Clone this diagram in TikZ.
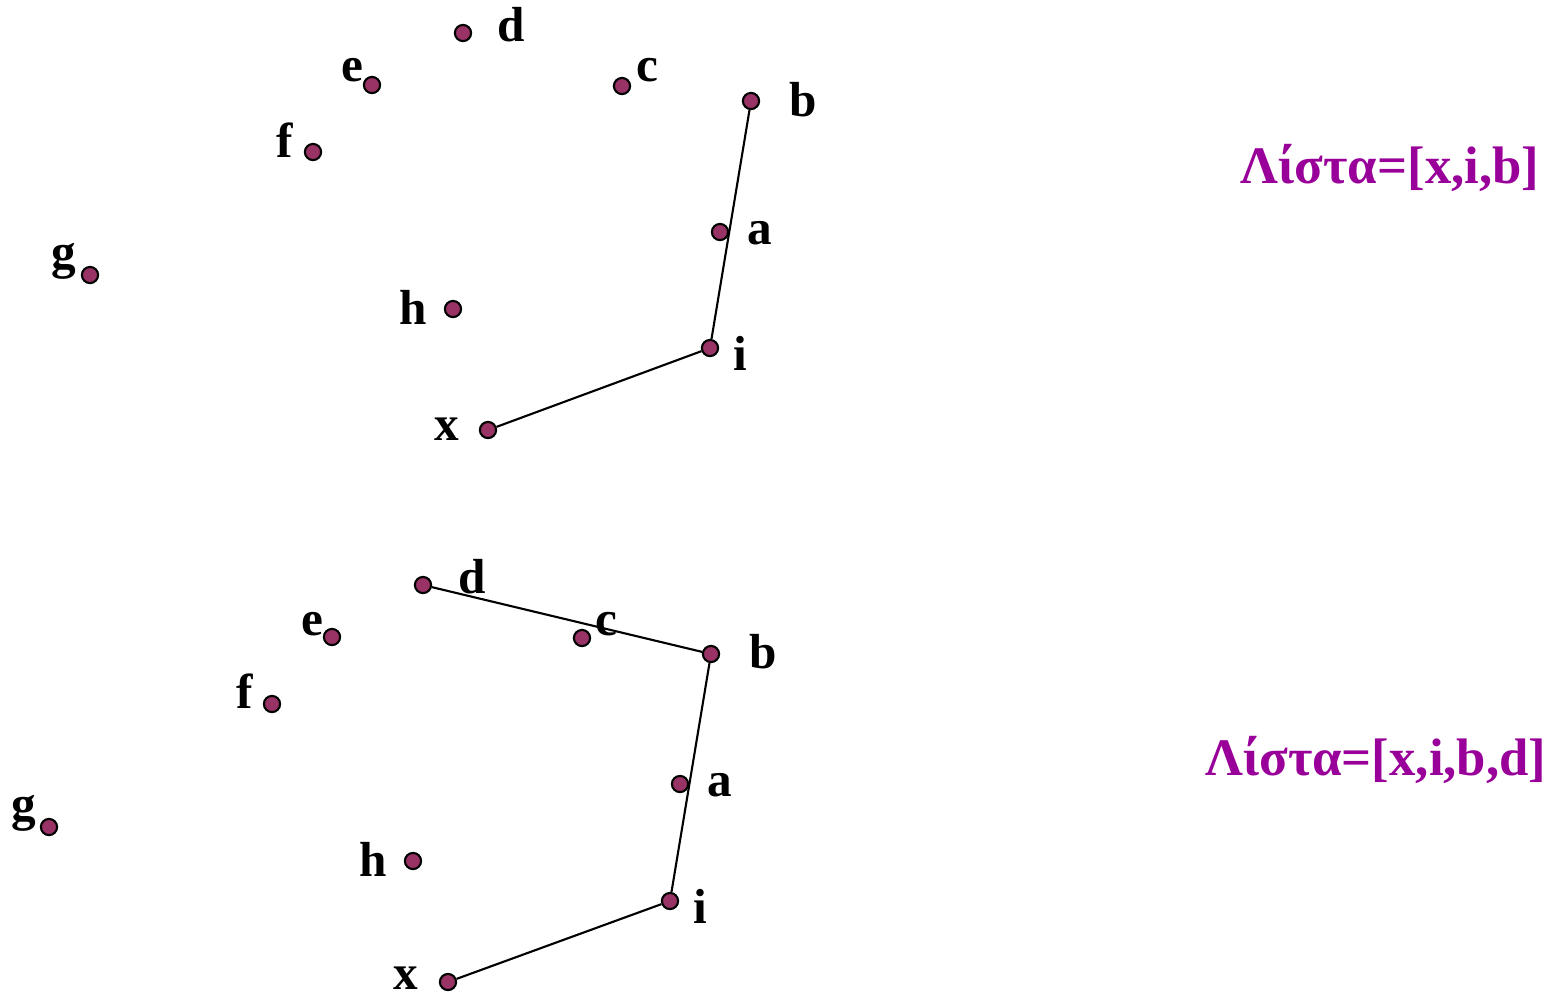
\documentclass[tikz,border=0pt]{standalone}
\usepackage{fontspec}
\setmainfont{Liberation Serif}
\definecolor{dotfill}{HTML}{993366}
\definecolor{listcol}{HTML}{990099}
\begin{document}
\begin{tikzpicture}[x=0.01cm,y=-0.01cm,
  pt/.style={circle,draw=black,fill=dotfill,line width=0.6pt,inner sep=0pt,minimum size=4.6pt},
  lbl/.style={anchor=base,font=\fontsize{14}{16}\selectfont\bfseries,inner sep=0pt},
  lst/.style={anchor=base,font=\fontsize{15}{18}\selectfont\bfseries,text=listcol,inner sep=0pt},
  edge/.style={line width=0.6pt}]
\useasboundingbox (0,0) rectangle (1550,996);
% top
\begin{scope}
\node[pt] (d1) at (463,33) {};
\node[pt] (e1) at (372,85) {};
\node[pt] (c1) at (622,86) {};
\node[pt] (b1) at (751,101) {};
\node[pt] (f1) at (313,152) {};
\node[pt] (a1) at (720,232) {};
\node[pt] (g1) at (90,275) {};
\node[pt] (h1) at (453,309) {};
\node[pt] (i1) at (710,348) {};
\node[pt] (x1) at (488,430) {};
\node[lbl] (ld1) at (511,41) {d};
\node[lbl] (le1) at (352,81) {e};
\node[lbl] (lc1) at (647,81) {c};
\node[lbl] (lb1) at (803,116) {b};
\node[lbl] (lf1) at (285,157) {f};
\node[lbl] (la1) at (760,244) {a};
\node[lbl] (lg1) at (64,268) {g};
\node[lbl] (lh1) at (413,324) {h};
\node[lbl] (li1) at (740,370) {i};
\node[lbl] (lx1) at (447,440) {x};
\draw[edge] (x1) -- (i1) -- (b1);
\node[lst,anchor=base east] (list1) at (1540,183) {Λίστα=[x,i,b]};
\end{scope}
% bottom
\begin{scope}
\node[pt] (d2) at (423,585) {};
\node[pt] (e2) at (332,637) {};
\node[pt] (c2) at (582,638) {};
\node[pt] (b2) at (711,654) {};
\node[pt] (f2) at (272,704) {};
\node[pt] (a2) at (680,784) {};
\node[pt] (g2) at (49,827) {};
\node[pt] (h2) at (413,861) {};
\node[pt] (i2) at (670,901) {};
\node[pt] (x2) at (448,982) {};
\node[lbl] (ld2) at (472,593) {d};
\node[lbl] (le2) at (312,635) {e};
\node[lbl] (lc2) at (606,635) {c};
\node[lbl] (lb2) at (763,668) {b};
\node[lbl] (lf2) at (245,708) {f};
\node[lbl] (la2) at (720,796) {a};
\node[lbl] (lg2) at (24,820) {g};
\node[lbl] (lh2) at (373,876) {h};
\node[lbl] (li2) at (700,923) {i};
\node[lbl] (lx2) at (406,989) {x};
\draw[edge] (x2) -- (i2) -- (b2) -- (d2);
\node[lst,anchor=base east] (list2) at (1547,775) {Λίστα=[x,i,b,d]};
\end{scope}
\end{tikzpicture}
\end{document}
